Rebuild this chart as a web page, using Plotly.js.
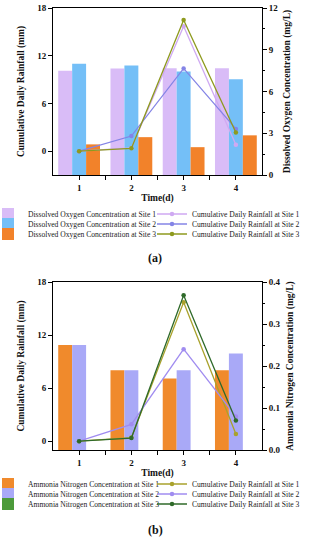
<!DOCTYPE html>
<html><head><meta charset="utf-8">
<script src="https://cdn.plot.ly/plotly-3.0.1.min.js"></script>
<style>html,body{margin:0;padding:0;background:#fff}#chart{width:310px;height:550px}</style>
</head><body><div id="chart"></div>
<script>
// ---- data ----
const days = [1, 2, 3, 4];
const tickLabels = ['1', '2', '3', '4'];
const rainSite1 = [0, 0.4, 15.7, 0.8];
const rainSite2 = [0, 1.9, 10.4, 2.8];
const rainSite3 = [0, 0.35, 16.5, 2.35];
const doSite1 = [7.5, 7.65, 7.67, 7.67];
const doSite2 = [8.0, 7.87, 7.43, 6.88];
const doSite3 = [2.2, 2.72, 2.0, 2.85];
const nhSite1 = [0.25, 0.19, 0.17, 0.19];
const nhSite2 = [0.25, 0.19, 0.19, 0.23];
const nhSite3 = [0, 0, 0, 0];
const doNames = ['Dissolved Oxygen Concentration at Site 1', 'Dissolved Oxygen Concentration at Site 2', 'Dissolved Oxygen Concentration at Site 3'];
const nhNames = ['Ammonia Nitrogen Concentration at Site 1', 'Ammonia Nitrogen Concentration at Site 2', 'Ammonia Nitrogen Concentration at Site 3'];
const rainNames = ['Cumulative Daily Rainfall at Site 1', 'Cumulative Daily Rainfall at Site 2', 'Cumulative Daily Rainfall at Site 3'];
const panelLabels = ['(a)', '(b)'];
const leftTitle = 'Cumulative Daily Rainfall (mm)';
const rightTitleA = 'Dissolved Oxygen Concentration (mg/L)';
const rightTitleB = 'Ammonia Nitrogen Concentration (mg/L)';
const xTitle = 'Time(d)';

// ---- styling ----
const SERIF = 'Liberation Serif, Times New Roman, serif';
const W = 310, H = 550, ML = 53, MR = 48, MT = 8, MB = 100;
const PW = W - ML - MR, PH = H - MT - MB;
const px2x = p => (p - ML) / PW;
const px2y = p => (H - MB - p) / PH;

const doColors = ['#D9BCF7', '#74BFF7', '#F2822A'];
const nhColors = ['#F08A2C', '#A9A9F7', '#4C9A3A'];
const rainColorsA = ['#CFA9F2', '#8484E6', '#8E9A1E'];
const rainColorsB = ['#A9A22C', '#A08CF0', '#2F6A2A'];

const barTrace = (y, name, color, xa, ya, leg) => ({
  type: 'bar', x: days, y: y, name: name, xaxis: xa, yaxis: ya,
  marker: {color: color, line: {width: 0}}, legend: leg, showlegend: true
});
const lineTrace = (y, name, color, xa, ya, leg) => ({
  type: 'scatter', mode: 'lines+markers', x: days, y: y, name: name, xaxis: xa, yaxis: ya,
  line: {color: color, width: 1.3}, marker: {color: color, size: 4.5}, legend: leg, showlegend: true
});

const data = [
  barTrace(doSite1, doNames[0], doColors[0], 'x', 'y', 'legend'),
  barTrace(doSite2, doNames[1], doColors[1], 'x', 'y', 'legend2'),
  barTrace(doSite3, doNames[2], doColors[2], 'x', 'y', 'legend3'),
  lineTrace(rainSite1, rainNames[0], rainColorsA[0], 'x', 'y2', 'legend4'),
  lineTrace(rainSite2, rainNames[1], rainColorsA[1], 'x', 'y2', 'legend5'),
  lineTrace(rainSite3, rainNames[2], rainColorsA[2], 'x', 'y2', 'legend6'),
  barTrace(nhSite1, nhNames[0], nhColors[0], 'x2', 'y3', 'legend7'),
  barTrace(nhSite2, nhNames[1], nhColors[1], 'x2', 'y3', 'legend8'),
  barTrace(nhSite3, nhNames[2], nhColors[2], 'x2', 'y3', 'legend9'),
  lineTrace(rainSite1, rainNames[0], rainColorsB[0], 'x2', 'y4', 'legend10'),
  lineTrace(rainSite2, rainNames[1], rainColorsB[1], 'x2', 'y4', 'legend11'),
  lineTrace(rainSite3, rainNames[2], rainColorsB[2], 'x2', 'y4', 'legend12')
];

const tickFont = {family: SERIF, size: 9, color: '#111', weight: 'bold'};
const titleFont = {family: SERIF, size: 9.5, color: '#111', weight: 'bold'};

const xAxis = (anchor) => ({
  anchor: anchor, domain: [0, 1], range: [0.5, 4.5],
  tickmode: 'array', tickvals: days, ticktext: tickLabels,
  ticks: 'outside', ticklen: 4, tickwidth: 1, tickcolor: '#000',
  minor: {tickmode: 'array', tickvals: [1.5, 2.5, 3.5], ticks: 'outside', ticklen: 4, tickcolor: '#000'},
  showline: true, linecolor: '#000', linewidth: 1, mirror: true,
  showgrid: false, zeroline: false, tickfont: tickFont,
  title: {text: xTitle, font: titleFont, standoff: 2}
});
const yAxis = (o) => Object.assign({
  ticks: 'outside', ticklen: 4, tickwidth: 1, tickcolor: '#000',
  showline: true, linecolor: '#000', linewidth: 1,
  showgrid: false, zeroline: false, tickfont: tickFont
}, o);

const legendIds = ['legend','legend2','legend3','legend4','legend5','legend6','legend7','legend8','legend9','legend10','legend11','legend12'];
const leftLegX = -12, rightLegX = 152;
const rowsA = [214, 224, 234], rowsB = [484, 494, 504];
const legPos = [
  [leftLegX, rowsA[0]], [leftLegX, rowsA[1]], [leftLegX, rowsA[2]],
  [rightLegX, rowsA[0]], [rightLegX, rowsA[1]], [rightLegX, rowsA[2]],
  [leftLegX, rowsB[0]], [leftLegX, rowsB[1]], [leftLegX, rowsB[2]],
  [rightLegX, rowsB[0]], [rightLegX, rowsB[1]], [rightLegX, rowsB[2]]
];

const layout = {
  width: W, height: H, showlegend: true,
  margin: {l: ML, r: MR, t: MT, b: MB, autoexpand: false},
  paper_bgcolor: '#fff', plot_bgcolor: 'rgba(0,0,0,0)',
  barmode: 'group', bargap: 0.2, bargroupgap: 0,
  font: {family: SERIF, color: '#111'},
  xaxis: xAxis('y'),
  yaxis: yAxis({domain: [px2y(175), 1], side: 'right', range: [0, 12], tickvals: [0, 3, 6, 9, 12],
    minor: {dtick: 1.5, ticks: 'outside', ticklen: 2, tickcolor: '#000'},
    title: {text: rightTitleA, font: titleFont, standoff: 6}}),
  yaxis2: yAxis({overlaying: 'y', side: 'left', anchor: 'x', range: [-3, 18], tickvals: [0, 6, 12, 18],
    title: {text: leftTitle, font: titleFont, standoff: 10}}),
  xaxis2: xAxis('y3'),
  yaxis3: yAxis({domain: [0, px2y(282)], anchor: 'x2', side: 'right', range: [0, 0.4], tickvals: [0, 0.1, 0.2, 0.3, 0.4], tickformat: '.1f',
    minor: {dtick: 0.05, ticks: 'outside', ticklen: 2, tickcolor: '#000'},
    title: {text: rightTitleB, font: titleFont, standoff: 6}}),
  yaxis4: yAxis({overlaying: 'y3', side: 'left', anchor: 'x2', range: [-1, 18], tickvals: [0, 6, 12, 18],
    title: {text: leftTitle, font: titleFont, standoff: 10}}),
  annotations: [
    {text: panelLabels[0], xref: 'paper', yref: 'paper', x: px2x(155), y: px2y(258), showarrow: false,
      font: {family: SERIF, size: 12, color: '#111', weight: 'bold'}},
    {text: panelLabels[1], xref: 'paper', yref: 'paper', x: px2x(155), y: px2y(539), showarrow: false,
      font: {family: SERIF, size: 12, color: '#111', weight: 'bold'}}
  ]
};
legendIds.forEach((id, i) => {
  layout[id] = {
    visible: true,
    x: px2x(legPos[i][0]), y: px2y(legPos[i][1]), xanchor: 'left', yanchor: 'middle',
    orientation: 'v', bgcolor: 'rgba(0,0,0,0)', borderwidth: 0, itemwidth: 30,
    font: {family: SERIF, size: 7.6, color: '#222'}
  };
});

Plotly.newPlot('chart', data, layout, {displayModeBar: false, staticPlot: true});
</script>
</body></html>
